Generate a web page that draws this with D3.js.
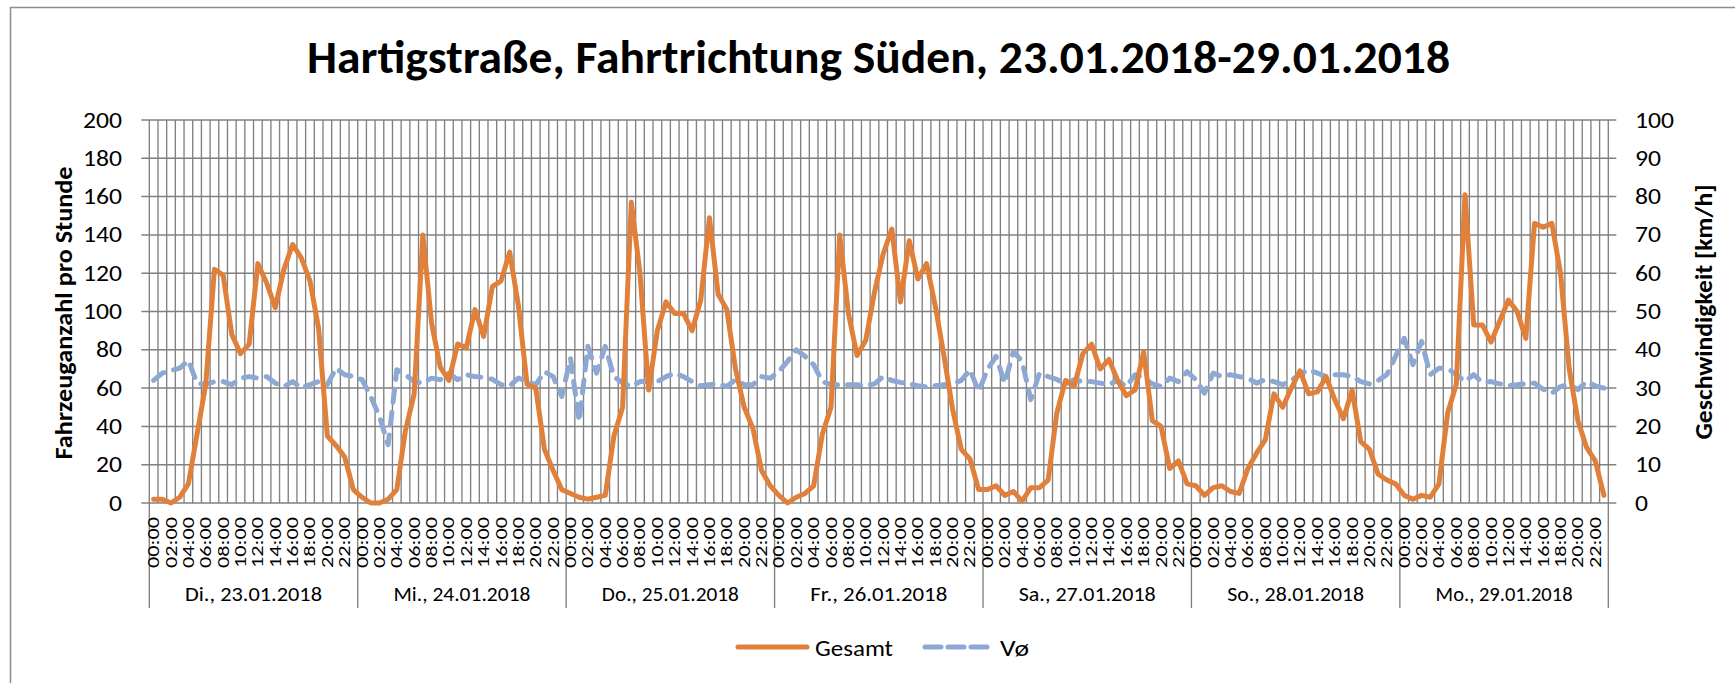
<!DOCTYPE html>
<html><head><meta charset="utf-8">
<script src="https://cdn.jsdelivr.net/npm/d3@7"></script>
<style>
body{margin:0;background:#fff}
text{font-family:Carlito, Calibri, Lato, sans-serif; fill:#000}
</style>
</head><body>
<svg id="chart" width="1735" height="683"></svg>
<script>
const titleText = "Hartigstraße, Fahrtrichtung Süden, 23.01.2018-29.01.2018";
const leftTitle = "Fahrzeuganzahl pro Stunde";
const rightTitle = "Geschwindigkeit [km/h]";
const days = ["Di., 23.01.2018","Mi., 24.01.2018","Do., 25.01.2018","Fr., 26.01.2018","Sa., 27.01.2018","So., 28.01.2018","Mo., 29.01.2018"];
const hours = ["00:00","01:00","02:00","03:00","04:00","05:00","06:00","07:00","08:00","09:00","10:00","11:00","12:00","13:00","14:00","15:00","16:00","17:00","18:00","19:00","20:00","21:00","22:00","23:00"];
const leftTicks = [0,20,40,60,80,100,120,140,160,180,200];
const rightTicks = [0,10,20,30,40,50,60,70,80,90,100];
const seriesNames = ["Gesamt","Vø"];

// Gesamt (vehicles per hour), one array per day
const gesamtDi = [2,2,0,3,10,36,62,122,119,88,78,83,125,115,102,122,135,128,116,91,35,30,24,7];
const gesamtMi = [3,0,0,2,7,38,57,140,94,71,64,83,81,101,87,113,116,131,103,62,60,28,17,7];
const gesamtDo = [5,3,2,3,4,35,50,157,120,59,90,105,99,99,90,106,149,109,101,70,50,39,17,9];
const gesamtFr = [4,0,3,5,9,36,50,140,99,77,85,110,130,143,105,137,117,125,103,77,49,28,23,7];
const gesamtSa = [7,9,4,6,1,8,8,12,47,64,61,78,83,70,75,64,56,59,79,43,40,18,22,10];
const gesamtSo = [9,4,8,9,6,5,18,26,33,57,50,60,69,57,58,66,54,44,59,32,28,15,12,10];
const gesamtMo = [4,2,4,3,10,47,62,161,93,93,84,95,106,100,86,146,144,146,120,70,43,29,22,4];

// V mean (km/h), one array per day
const vDi = [32,33.9,34.6,35.2,37.2,31.3,30.9,31.7,31.7,30.9,32.6,33,32.6,33,31.3,30.4,31.7,30,30.9,31.7,30.9,35.2,33.5,33];
const vMi = [32.2,27.8,22.6,15.2,34.8,33.5,31.7,31.3,32.6,32.2,33.9,32.2,33.5,33,32.8,32.3,30.9,30.6,32.6,31.7,30.9,34.3,33,27.8];
const vDo = [37.8,21.3,40.9,33.9,40.9,33,31.3,30.4,31.7,31.7,31.7,33,33.9,33,31.7,30.6,30.9,31.1,30.4,32.2,30.9,30.9,33,32.6];
const vFr = [34.3,37,40,38.3,36.1,31.7,30.9,30.9,30.9,30.9,30.6,31.1,33,32,31.5,31.1,30.6,30.3,30.6,30.9,31.1,32,34.8,29.1];
const vSa = [34.8,38.3,31.3,39.5,37,27,33.9,33,32.3,30.9,32.2,31.7,31.7,31.3,30.9,32,30.4,33.5,32.6,31.1,30.4,32.6,31.7,34.3];
const vSo = [32.2,28.7,33.9,33,33.5,33,32.6,31.3,32.2,31.7,30.9,32,33.7,34.8,33.9,33,33.5,33.5,33,31.7,31.1,32,33.5,38.3];
const vMo = [43,36.1,42.2,33.5,35.2,35.2,33.5,31.7,33.5,31.5,31.7,31.1,30.6,30.9,31.1,31.3,29.7,28.7,30.4,30.9,29.6,31.7,30.6,30];

const gesamt = [].concat(gesamtDi,gesamtMi,gesamtDo,gesamtFr,gesamtSa,gesamtSo,gesamtMo);
const vMean = [].concat(vDi,vMi,vDo,vFr,vSa,vSo,vMo);

const ORANGE = "#E0803A", BLUE = "#8DA8D2", GRID = "#808080";
const L = 149.3, R = 1608.3, T = 120, B = 503;
const N = days.length * hours.length;

const svg = d3.select("#chart");
// outer chart border
svg.append("rect").attr("x",10.5).attr("y",7.5).attr("width",1800).attr("height",800)
  .attr("fill","none").attr("stroke","#8c8c8c").attr("stroke-width",1.5);

const x = d3.scaleBand().domain(d3.range(N)).range([L,R]).padding(0);
const bw = x.bandwidth();
const cx = i => x(i) + bw/2;
const yL = d3.scaleLinear().domain([0,200]).range([B,T]);
const yR = d3.scaleLinear().domain([0,100]).range([B,T]);

const g = svg.append("g");
// horizontal gridlines with outer ticks
g.selectAll("line.h").data(leftTicks).join("line")
  .attr("x1",L-8).attr("x2",R+8).attr("y1",d=>yL(d)).attr("y2",d=>yL(d))
  .attr("stroke",GRID).attr("stroke-width",1.5);
// vertical gridlines at category boundaries
const bounds = d3.range(N+1);
g.selectAll("line.v").data(bounds).join("line")
  .attr("x1",k=>k<N?x(k):R).attr("x2",k=>k<N?x(k):R)
  .attr("y1",T).attr("y2",k=> k % hours.length === 0 ? 608 : B)
  .attr("stroke",GRID).attr("stroke-width",1.35);

// left axis labels
g.selectAll("text.yl").data(leftTicks).join("text")
  .attr("x",122).attr("y",d=>yL(d)).attr("text-anchor","end")
  .attr("dominant-baseline","central").attr("font-size",22)
  .attr("textLength",d=>String(d).length*13).attr("lengthAdjust","spacingAndGlyphs")
  .text(d=>d);
// right axis labels
g.selectAll("text.yr").data(rightTicks).join("text")
  .attr("x",1635).attr("y",d=>yR(d)).attr("text-anchor","start")
  .attr("dominant-baseline","central").attr("font-size",22)
  .attr("textLength",d=>String(d).length*13).attr("lengthAdjust","spacingAndGlyphs")
  .text(d=>d);

// hour labels (every second hour)
const hourIdx = d3.range(N).filter(i => (i % hours.length) % 2 === 0);
g.selectAll("text.hx").data(hourIdx).join("text")
  .attr("transform",i=>`translate(${cx(i)},517) rotate(-90)`)
  .attr("text-anchor","end").attr("dominant-baseline","central")
  .attr("font-size",15.5).attr("textLength",51).attr("lengthAdjust","spacingAndGlyphs")
  .text(i=>hours[i % hours.length]);

// day labels
g.selectAll("text.day").data(days).join("text")
  .attr("x",(d,j)=> (x(j*hours.length) + (j===days.length-1 ? R : x((j+1)*hours.length)))/2)
  .attr("y",601).attr("text-anchor","middle").attr("font-size",21)
  .attr("textLength",137).attr("lengthAdjust","spacingAndGlyphs")
  .text(d=>d);

// axis titles
svg.append("text").attr("transform","translate(63,313) rotate(-90)")
  .attr("text-anchor","middle").attr("dominant-baseline","central")
  .attr("font-size",25).attr("font-weight","bold")
  .attr("textLength",293).attr("lengthAdjust","spacingAndGlyphs").text(leftTitle);
svg.append("text").attr("transform","translate(1703,312) rotate(-90)")
  .attr("text-anchor","middle").attr("dominant-baseline","central")
  .attr("font-size",25).attr("font-weight","bold")
  .attr("textLength",255).attr("lengthAdjust","spacingAndGlyphs").text(rightTitle);

// title
svg.append("text").attr("x",307).attr("y",73).attr("font-size",47).attr("font-weight","bold")
  .attr("textLength",1143).attr("lengthAdjust","spacingAndGlyphs").text(titleText);

// series
const lineV = d3.line().x((d,i)=>cx(i)).y(d=>yR(d));
const lineG = d3.line().x((d,i)=>cx(i)).y(d=>yL(d));
svg.append("path").datum(vMean).attr("d",lineV).attr("fill","none")
  .attr("stroke",BLUE).attr("stroke-width",5).attr("stroke-dasharray","13,10")
  .attr("stroke-linecap","round").attr("stroke-linejoin","round");
svg.append("path").datum(gesamt).attr("d",lineG).attr("fill","none")
  .attr("stroke",ORANGE).attr("stroke-width",5)
  .attr("stroke-linecap","round").attr("stroke-linejoin","round");

// legend
const lg = svg.append("g");
lg.append("line").attr("x1",738).attr("x2",807).attr("y1",647).attr("y2",647)
  .attr("stroke",ORANGE).attr("stroke-width",5).attr("stroke-linecap","round");
lg.append("text").attr("x",815).attr("y",656).attr("font-size",23)
  .attr("textLength",78).attr("lengthAdjust","spacingAndGlyphs").text(seriesNames[0]);
lg.append("line").attr("x1",925).attr("x2",987).attr("y1",647).attr("y2",647)
  .attr("stroke",BLUE).attr("stroke-width",5).attr("stroke-dasharray","16,7")
  .attr("stroke-linecap","round");
lg.append("text").attr("x",1000).attr("y",656).attr("font-size",23)
  .attr("textLength",29).attr("lengthAdjust","spacingAndGlyphs").text(seriesNames[1]);
</script>
</body></html>
